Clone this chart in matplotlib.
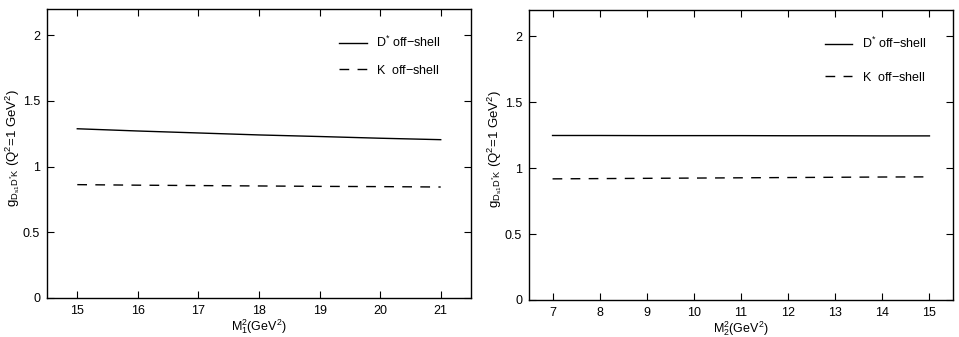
import matplotlib
matplotlib.use('Agg')
import matplotlib.pyplot as plt
import numpy as np

plt.rcParams['font.family'] = ['Liberation Sans', 'DejaVu Sans']
plt.rcParams['mathtext.fontset'] = 'custom'
plt.rcParams['mathtext.rm'] = 'Liberation Sans'
plt.rcParams['mathtext.it'] = 'Liberation Sans'
plt.rcParams['mathtext.bf'] = 'Liberation Sans:bold'

# left panel: coupling vs M1^2
m1 = [15, 16, 17, 18, 19, 20, 21]
left_dstar = [1.287, 1.270, 1.255, 1.240, 1.228, 1.215, 1.204]
left_k = [0.862, 0.858, 0.855, 0.852, 0.849, 0.847, 0.844]

# right panel: coupling vs M2^2
m2 = [7, 8, 9, 10, 11, 12, 13, 14, 15]
right_dstar = [1.248, 1.248, 1.247, 1.247, 1.247, 1.246, 1.246, 1.245, 1.245]
right_k = [0.919, 0.921, 0.923, 0.925, 0.927, 0.929, 0.931, 0.933, 0.934]

labels = [r'D$^{*}$ off$-$shell', r'K  off$-$shell']
ylabel = r'g$_{\mathrm{D_{s1}D^{*}K}}$ (Q$^{2}$=1 GeV$^{2}$)'

fig = plt.figure(figsize=(9.59, 3.37), dpi=100)
ax1 = fig.add_axes([47/959, 1 - 298/337, 424/959, 289.3/337])
ax2 = fig.add_axes([529/959, 1 - 300/337, 424/959, 290/337])

dash = (0, (7, 6))
fs = 9

def style(ax, xlim, xticks, xlabel, leg_anchor, spacing):
    ax.set_xlim(*xlim)
    ax.set_ylim(0, 2.2)
    ax.set_xticks(xticks)
    ax.set_yticks([0, 0.5, 1, 1.5, 2])
    ax.set_yticklabels(['0', '0.5', '1', '1.5', '2'])
    ax.tick_params(direction='in', length=5, width=0.8, top=True, right=True,
                   labelsize=fs, pad=5)
    for s in ax.spines.values():
        s.set_linewidth(1.0)
    ax.set_xlabel(xlabel, fontsize=fs, labelpad=0)
    ax.set_ylabel(ylabel, fontsize=9.5)
    ax.yaxis.set_label_coords(-0.06, 0.52)
    ax.legend(loc='upper left', bbox_to_anchor=leg_anchor, frameon=False,
              fontsize=fs, handlelength=2.2, handletextpad=0.75,
              labelspacing=spacing, borderpad=0, borderaxespad=0)

ax1.plot(m1, left_dstar, color='black', lw=1.0, label=labels[0])
ax1.plot(m1, left_k, color='black', lw=1.0, linestyle=dash, label=labels[1])
style(ax1, (14.5, 21.5), range(15, 22), r'M$_{1}^{2}$(GeV$^{2}$)', (0.689, 0.91), 1.1)

ax2.plot(m2, right_dstar, color='black', lw=1.0, label=labels[0])
ax2.plot(m2, right_k, color='black', lw=1.0, linestyle=dash, label=labels[1])
style(ax2, (6.5, 15.5), range(7, 16), r'M$_{2}^{2}$(GeV$^{2}$)', (0.698, 0.91), 1.55)

fig.savefig('out.png', dpi=100)
